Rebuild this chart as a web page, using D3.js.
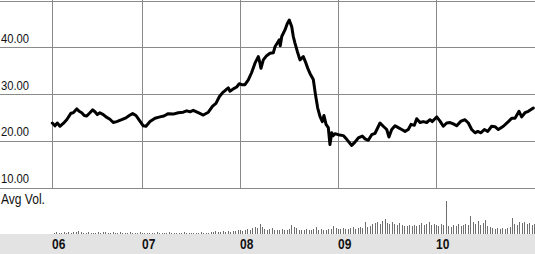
<!DOCTYPE html>
<html><head><meta charset="utf-8">
<script src="https://cdn.jsdelivr.net/npm/d3@7"></script>
<style>
html,body{margin:0;padding:0;background:#fff;}
svg{display:block;}
text{font-family:"Liberation Sans",Arial,sans-serif;fill:#111;}
</style></head>
<body>
<script>
// ---- data ----
const priceDates = [2006.085,2006.112,2006.136,2006.163,2006.197,2006.232,2006.276,2006.299,2006.334,2006.360,2006.385,2006.411,2006.436,2006.469,2006.497,2006.520,2006.544,2006.571,2006.605,2006.633,2006.673,2006.707,2006.742,2006.793,2006.837,2006.870,2006.905,2006.939,2006.972,2007.013,2007.041,2007.082,2007.133,2007.184,2007.224,2007.268,2007.319,2007.370,2007.421,2007.456,2007.490,2007.523,2007.574,2007.626,2007.677,2007.721,2007.755,2007.789,2007.823,2007.857,2007.881,2007.898,2007.932,2007.966,2007.993,2008.017,2008.051,2008.085,2008.119,2008.153,2008.187,2008.204,2008.214,2008.238,2008.272,2008.306,2008.340,2008.357,2008.381,2008.401,2008.411,2008.426,2008.459,2008.483,2008.503,2008.528,2008.544,2008.561,2008.585,2008.612,2008.646,2008.673,2008.697,2008.721,2008.748,2008.772,2008.793,2008.816,2008.840,2008.857,2008.878,2008.901,2008.918,2008.936,2008.952,2008.969,2009.003,2009.054,2009.089,2009.140,2009.173,2009.207,2009.248,2009.276,2009.309,2009.344,2009.378,2009.429,2009.462,2009.497,2009.520,2009.548,2009.582,2009.615,2009.650,2009.684,2009.717,2009.745,2009.779,2009.803,2009.837,2009.870,2009.905,2009.939,2009.962,2010.007,2010.041,2010.074,2010.109,2010.143,2010.177,2010.211,2010.255,2010.296,2010.330,2010.364,2010.398,2010.426,2010.459,2010.493,2010.528,2010.568,2010.602,2010.636,2010.687,2010.738,2010.772,2010.806,2010.847,2010.874,2010.908,2010.942,2010.993];
const priceValues = [23.8,23.2,23.8,23.1,23.7,24.5,25.9,26.0,26.8,26.3,26.0,25.4,25.3,26.0,26.6,26.2,25.6,26.0,25.6,25.1,24.6,23.9,24.1,24.5,24.9,25.4,25.8,25.4,24.4,23.2,23.1,24.1,24.8,25.1,25.3,25.8,25.7,26.0,26.1,26.4,26.2,26.5,26.0,25.5,26.1,27.4,28.0,29.4,30.3,30.9,31.3,30.6,31.1,31.5,32.2,32.0,32.0,33.0,34.6,36.6,38.0,36.6,35.5,37.3,38.2,38.7,38.8,40.1,40.9,41.6,40.3,42.3,43.7,45.1,45.8,44.4,42.3,40.9,39.1,37.3,38.0,36.6,35.2,34.1,33.1,29.6,27.0,25.2,24.1,25.4,23.5,22.8,19.2,21.7,21.1,21.5,21.3,21.1,20.3,19.0,19.7,20.6,21.0,20.4,20.1,21.3,21.6,23.8,23.1,22.4,20.8,22.4,23.2,22.8,22.4,22.0,22.4,23.5,23.3,24.7,23.9,24.1,23.9,24.5,24.1,25.1,24.2,23.1,23.8,23.9,23.6,23.2,24.2,24.5,23.8,22.4,21.7,22.0,21.7,22.4,22.0,23.1,23.0,22.4,23.1,24.1,24.8,24.8,26.3,25.1,26.0,26.3,27.0];
const volumeStart = 2006.1;      // first volume bar (year)
const volumeStep = 1 / 40;       // spacing between bars (year)
const volumeValues = [1,2,1,1,2,1,2,1,2,2, 3,2,1,1,2,1,1,1,2,1, 2,2,1,1,2,1,1,2,1,1, 1,2,1,1,1,2,1,1,1,1,
  1,1,2,1,1,1,1,2,1,1, 1,1,1,2,1,1,1,1,1,1, 2,1,1,1,
  2,2,3,2,2,3,2,3,2,3,3,4,
  4,3,4,5,4,6,7,6,10,7,5,4,5,6,4,
  4,4,5,4,4,5,9,7,6,4,
  4,4,5,4,4,5,7,4,5,4,4,5,
  5,8,6,5,5,6,5,5,6,7,5,6,7,
  6,12,7,8,10,11,12,10,13,15,11,10,12,10,9,
  11,9,8,8,9,8,9,8,9,11,9,10,12,9,10,9,8,10,9,
  33,8,7,9,8,10,8,9,10,9,18,12,10,13,9,11,14,8,7,6,5,6,5,6,5,6,7,16,10,9,12,11,12,10,11,9,10];
const priceTicks = [10, 20, 30, 40, 50];
const priceTickLabels = ["10.00", "20.00", "30.00", "40.00", ""];
const yearTicks = [2006.082, 2007, 2008, 2009, 2010];
const yearLabels = ["06", "07", "08", "09", "10"];

// ---- layout ----
const W = 535, H = 254;
const svg = d3.select("body").append("svg").attr("width", W).attr("height", H);

const x = d3.scaleLinear().domain([2006.082, 2011.010]).range([52, 535]);
const y = d3.scaleLinear().domain([10, 50]).range([187.5, 0.5]);
const yv = d3.scaleLinear().domain([0, 35]).range([234, 199]);

// bottom band
svg.append("rect").attr("x", 0).attr("y", 234).attr("width", W).attr("height", H - 234).attr("fill", "#e3e3e3");

// horizontal gridlines
svg.append("g").selectAll("line").data(priceTicks).join("line")
  .attr("x1", 0).attr("x2", W)
  .attr("y1", d => Math.round(y(d)) + 0.5).attr("y2", d => Math.round(y(d)) + 0.5)
  .attr("stroke", "#8a8a8a").attr("stroke-width", 1).attr("shape-rendering", "crispEdges");

// vertical gridlines
svg.append("g").selectAll("line").data(yearTicks).join("line")
  .attr("x1", d => Math.round(x(d)) + 0.5).attr("x2", d => Math.round(x(d)) + 0.5)
  .attr("y1", 0).attr("y2", Math.round(y(10)) + 0.5)
  .attr("stroke", "#8a8a8a").attr("stroke-width", 1).attr("shape-rendering", "crispEdges");

// price tick labels
svg.append("g").selectAll("text").data(priceTicks.map((t, i) => [t, priceTickLabels[i]]).filter(d => d[1])).join("text")
  .attr("transform", d => `translate(1,${y(d[0]) - 4.3}) scale(0.9,1)`)
  .attr("font-size", 12.5).text(d => d[1]);

// price line
const line = d3.line().x((d, i) => x(priceDates[i])).y(d => y(d)).curve(d3.curveLinear);
svg.append("path").datum(priceValues).attr("d", line)
  .attr("fill", "none").attr("stroke", "#000").attr("stroke-width", 3)
  .attr("stroke-linejoin", "round").attr("stroke-linecap", "round");

// volume label
svg.append("text").attr("transform", "translate(1,203.5) scale(0.86,1)")
  .attr("font-size", 14).text("Avg Vol.");

// volume bars
svg.append("g").selectAll("rect").data(volumeValues).join("rect")
  .attr("x", (d, i) => Math.round(x(volumeStart + i * volumeStep)))
  .attr("y", d => yv(d))
  .attr("width", 1)
  .attr("height", d => yv(0) - yv(d))
  .attr("fill", "#6e6e6e").attr("shape-rendering", "crispEdges");

// year labels
svg.append("g").selectAll("text").data(yearTicks).join("text")
  .attr("transform", d => `translate(${Math.round(x(d))},249) scale(0.8,1)`)
  .attr("font-size", 15).attr("font-weight", "bold")
  .text((d, i) => yearLabels[i]);
</script>
</body></html>
